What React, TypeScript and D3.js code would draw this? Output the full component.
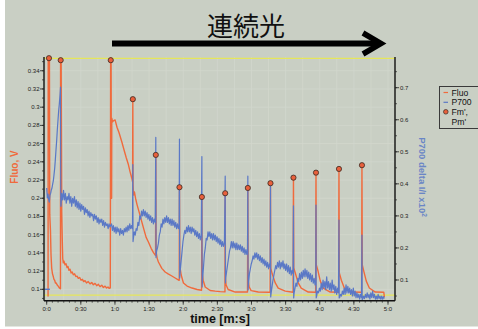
import React from 'react';
import * as d3 from 'd3';

type P = [number, number];

const titleText = '連続光';
const legendLabels = ['Fluo', 'P700', "Fm',", "Pm'"];
const leftTicks = [0.1, 0.12, 0.14, 0.16, 0.18, 0.2, 0.22, 0.24, 0.26, 0.28, 0.3, 0.32, 0.34];
const leftTickLabels = ['0.1', '0.12', '0.14', '0.16', '0.18', '0.2', '0.22', '0.24', '0.26', '0.28', '0.3', '0.32', '0.34'];
const rightTicks = [0.1, 0.2, 0.3, 0.4, 0.5, 0.6, 0.7];
const rightTickLabels = ['0.1', '0.2', '0.3', '0.4', '0.5', '0.6', '0.7'];
const timeTicks = [0, 30, 60, 90, 120, 150, 180, 210, 240, 270, 300];
const timeLabels = ['0:0', '0:30', '1:0', '1:30', '2:0', '2:30', '3:0', '3:30', '4:0', '4:30', '5:0'];
const yellowLevels = [0.0937, 0.3536];

const fmTimes = [2.0, 12.3, 56.3, 75.7, 95.9, 116.7, 136.4, 156.9, 176.8, 196.7, 216.9, 236.7, 256.9, 277.1];
const fmValues = [0.3538, 0.3516, 0.3516, 0.3088, 0.2476, 0.2121, 0.2014, 0.2055, 0.2113, 0.2165, 0.2226, 0.2281, 0.2322, 0.2363];

const fluoData: P[] = [
  [0.7, 0.0926], [1.2, 0.0926], [1.35, 0.354], [2.4, 0.354], [2.7, 0.182], [3.3, 0.165], [3.8, 0.138], [4.4, 0.123],
  [5.1, 0.117], [5.8, 0.114], [6.4, 0.111], [7.0, 0.110], [7.7, 0.107], [8.4, 0.107], [9.1, 0.105], [9.8, 0.104],
  [10.4, 0.103], [11.1, 0.1015], [11.7, 0.101], [12.1, 0.1005], [12.2, 0.352], [12.7, 0.352], [13.2, 0.185],
  [13.7, 0.154], [14.1, 0.134], [14.6, 0.129], [15.2, 0.131], [16.1, 0.127], [17.0, 0.128], [17.9, 0.124],
  [18.7, 0.125], [19.6, 0.121], [20.5, 0.122], [21.5, 0.118], [22.4, 0.119], [23.4, 0.116], [24.5, 0.117],
  [25.6, 0.114], [26.7, 0.1145], [27.8, 0.112], [29.0, 0.113], [30.2, 0.110], [31.4, 0.111], [32.5, 0.1085],
  [33.7, 0.1095], [35.0, 0.107], [36.5, 0.1085], [38.1, 0.106], [39.6, 0.1075], [41.0, 0.105], [42.5, 0.1065],
  [44.0, 0.104], [45.4, 0.1055], [46.9, 0.103], [48.4, 0.1045], [49.8, 0.102], [51.3, 0.1035], [52.6, 0.1015],
  [53.9, 0.1025], [55.0, 0.101], [55.9, 0.1015], [56.2, 0.354], [56.6, 0.354], [56.9, 0.2], [57.05, 0.2],
  [57.2, 0.288], [57.9, 0.284], [58.6, 0.285], [60.1, 0.286], [61.8, 0.278], [63.6, 0.272], [66.0, 0.262],
  [68.0, 0.253], [69.8, 0.245], [71.8, 0.237], [73.3, 0.229], [74.8, 0.222], [75.5, 0.218], [75.7, 0.309],
  [75.9, 0.2146], [76.4, 0.2036], [77.1, 0.207], [78.1, 0.2], [79.4, 0.193], [81.2, 0.185], [83.6, 0.174],
  [85.6, 0.165], [87.4, 0.157], [89.4, 0.152], [91.8, 0.145], [94.0, 0.14], [95.7, 0.137], [95.9, 0.2476],
  [96.2, 0.141], [97.1, 0.134], [98.2, 0.13], [101.2, 0.123], [104.1, 0.119], [106.7, 0.117], [110.0, 0.1146],
  [112.9, 0.1124], [116.0, 0.11], [116.5, 0.11], [116.7, 0.2121], [117.0, 0.1256], [118.2, 0.1157], [120.2, 0.107],
  [123.4, 0.1036], [127.8, 0.1014], [132.2, 0.0998], [136.1, 0.099], [136.4, 0.2014], [136.6, 0.119], [137.5, 0.11],
  [139.3, 0.1025], [143.7, 0.0987], [148.1, 0.098], [152.5, 0.0975], [156.7, 0.0972], [156.9, 0.2055], [157.1, 0.112],
  [157.7, 0.1047], [159.5, 0.0998], [165.7, 0.097], [176.5, 0.097], [176.8, 0.2113], [177.1, 0.11], [178.0, 0.1025],
  [179.7, 0.0985], [186, 0.097], [196.4, 0.0968], [196.7, 0.2165], [197.0, 0.123], [198.2, 0.117], [200.9, 0.107],
  [203.5, 0.1014], [209.7, 0.098], [216.6, 0.0968], [216.9, 0.2226], [217.2, 0.1234], [218.5, 0.118], [221.1, 0.107],
  [223.7, 0.1014], [229.9, 0.097], [236.4, 0.0968], [236.7, 0.2281], [237.0, 0.1267], [238.3, 0.121], [240.5, 0.109],
  [243.1, 0.1014], [249.2, 0.097], [256.6, 0.0968], [256.9, 0.2322], [257.2, 0.118], [259.0, 0.11], [261.6, 0.1014],
  [266.9, 0.097], [276.8, 0.0968], [277.1, 0.2363], [277.4, 0.1267], [278.7, 0.12], [280.9, 0.109], [283.6, 0.1014],
  [288.8, 0.097], [296.3, 0.0968], [296.8, 0.0915],
];

const p700Pre: P[] = [[-2, 0.071], [2.8, 0.071]];

const p700Data: P[] = [
  [0, 0.387], [0.53, 0.356], [1.14, 0.368], [1.76, 0.35], [2.29, 0.343], [2.9, 0.365], [3.52, 0.371], [4.05, 0.381],
  [4.66, 0.387], [5.28, 0.4], [5.81, 0.409], [6.42, 0.428], [7.04, 0.449], [7.57, 0.474], [8.18, 0.506], [8.8, 0.537],
  [9.33, 0.568], [9.94, 0.599], [10.56, 0.63], [11.09, 0.649], [11.7, 0.677], [12.14, 0.702], [12.4, 0.334],
  [12.6, 0.33], [13.2, 0.37], [14, 0.35], [14.8, 0.38], [15.6, 0.35], [16.4, 0.37], [17.2, 0.34], [18, 0.36],
  [18.8, 0.35], [19.6, 0.37], [20.4, 0.34], [21.2, 0.36], [22, 0.33], [22.8, 0.355], [23.6, 0.34], [24.4, 0.36],
  [25.2, 0.33], [26, 0.35], [26.8, 0.325], [27.6, 0.345], [28.4, 0.32], [29.2, 0.34], [30, 0.315], [30.8, 0.335],
  [31.6, 0.32], [32.4, 0.33], [33.2, 0.305], [34, 0.325], [34.8, 0.31], [35.6, 0.32], [36.4, 0.3], [37.2, 0.315],
  [38, 0.295], [38.8, 0.31], [39.6, 0.3], [40.4, 0.305], [41.2, 0.285], [42, 0.305], [42.8, 0.29], [43.6, 0.3],
  [44.4, 0.28], [45.2, 0.295], [46, 0.275], [46.8, 0.29], [47.6, 0.28], [48.4, 0.29], [49.2, 0.27], [50, 0.285],
  [50.8, 0.265], [51.6, 0.28], [52.4, 0.27], [53.2, 0.275], [54, 0.26], [54.8, 0.275], [55.6, 0.265], [56.2, 0.27],
  [57, 0.275], [57.8, 0.255], [58.6, 0.27], [59.4, 0.25], [60.2, 0.265], [61, 0.245], [61.8, 0.265], [62.6, 0.25],
  [63.4, 0.26], [64.2, 0.24], [65, 0.26], [65.8, 0.245], [66.6, 0.255], [67.4, 0.24], [68.2, 0.26], [69, 0.25],
  [69.8, 0.265], [70.6, 0.25], [71.4, 0.27], [72.2, 0.255], [73, 0.275], [73.8, 0.26], [74.6, 0.27], [75.4, 0.26],
  [75.7, 0.46], [75.9, 0.22],
  [76.2, 0.23], [77, 0.25], [77.8, 0.24], [78.6, 0.26], [79.4, 0.255], [80.2, 0.28], [81, 0.27], [81.8, 0.3],
  [82.6, 0.29], [83.4, 0.315], [84.2, 0.3], [85, 0.32], [85.8, 0.3], [86.6, 0.315], [87.4, 0.295], [88.2, 0.31],
  [89, 0.29], [89.8, 0.305], [90.6, 0.285], [91.4, 0.3], [92.2, 0.28], [93, 0.295], [93.8, 0.275], [94.6, 0.29],
  [95.4, 0.28], [95.9, 0.545], [96.1, 0.17],
  [96.6, 0.19], [97.4, 0.2], [98.2, 0.215], [99, 0.24], [99.8, 0.25], [100.6, 0.275], [101.4, 0.265], [102.2, 0.29],
  [103, 0.275], [103.8, 0.295], [104.6, 0.28], [105.4, 0.3], [106.2, 0.28], [107, 0.295], [107.8, 0.275],
  [108.6, 0.29], [109.4, 0.27], [110.2, 0.29], [111, 0.27], [111.8, 0.285], [112.6, 0.265], [113.4, 0.28],
  [114.2, 0.26], [115, 0.275], [115.8, 0.26], [116.4, 0.27], [116.7, 0.54], [116.9, 0.106],
  [117.4, 0.13], [118.2, 0.16], [119, 0.19], [119.8, 0.22], [120.6, 0.24], [121.4, 0.255], [122.2, 0.245],
  [123, 0.265], [123.8, 0.25], [124.6, 0.27], [125.4, 0.25], [126.2, 0.265], [127, 0.245], [127.8, 0.265],
  [128.6, 0.25], [129.4, 0.26], [130.2, 0.24], [131, 0.255], [131.8, 0.235], [132.6, 0.25], [133.4, 0.23],
  [134.2, 0.245], [135, 0.225], [135.8, 0.24], [136.4, 0.485], [136.6, 0.078],
  [137, 0.1], [137.8, 0.14], [138.6, 0.18], [139.4, 0.2], [140.2, 0.23], [141, 0.225], [141.8, 0.25], [142.6, 0.235],
  [143.4, 0.25], [144.2, 0.23], [145, 0.245], [145.8, 0.225], [146.6, 0.245], [147.4, 0.225], [148.2, 0.24],
  [149, 0.22], [149.8, 0.235], [150.6, 0.215], [151.4, 0.23], [152.2, 0.21], [153, 0.225], [153.8, 0.205],
  [154.6, 0.22], [155.4, 0.205], [156.2, 0.215], [156.9, 0.424], [157.1, 0.091],
  [157.5, 0.11], [158.3, 0.13], [159.1, 0.15], [159.9, 0.17], [160.7, 0.19], [161.5, 0.2], [162.3, 0.22],
  [163.1, 0.2], [163.9, 0.22], [164.7, 0.2], [165.5, 0.215], [166.3, 0.195], [167.1, 0.215], [167.9, 0.195],
  [168.7, 0.21], [169.5, 0.195], [170.3, 0.21], [171.1, 0.19], [171.9, 0.205], [172.7, 0.185], [173.5, 0.2],
  [174.3, 0.18], [175.1, 0.195], [175.9, 0.18], [176.5, 0.19], [176.8, 0.424], [177.0, 0.069],
  [177.4, 0.09], [178.2, 0.12], [179, 0.135], [179.8, 0.15], [180.6, 0.16], [181.4, 0.175], [182.2, 0.165],
  [183, 0.185], [183.8, 0.17], [184.6, 0.185], [185.4, 0.165], [186.2, 0.18], [187, 0.16], [187.8, 0.175],
  [188.6, 0.155], [189.4, 0.17], [190.2, 0.15], [191, 0.165], [191.8, 0.145], [192.6, 0.16], [193.4, 0.14],
  [194.2, 0.155], [195, 0.135], [195.8, 0.15], [196.4, 0.14], [196.7, 0.396], [196.9, 0.047],
  [197.3, 0.06], [198.1, 0.08], [198.9, 0.1], [199.7, 0.115], [200.5, 0.13], [201.3, 0.145], [202.1, 0.135],
  [202.9, 0.155], [203.7, 0.14], [204.5, 0.16], [205.3, 0.135], [206.1, 0.155], [206.9, 0.14], [207.7, 0.16],
  [208.5, 0.135], [209.3, 0.15], [210.1, 0.13], [210.9, 0.15], [211.7, 0.125], [212.5, 0.145], [213.3, 0.12],
  [214.1, 0.14], [214.9, 0.115], [215.7, 0.13], [216.5, 0.12], [216.9, 0.331], [217.1, 0.044],
  [217.5, 0.06], [218.3, 0.075], [219.1, 0.09], [219.9, 0.08], [220.7, 0.105], [221.5, 0.095], [222.3, 0.12],
  [223.1, 0.1], [223.9, 0.125], [224.7, 0.105], [225.5, 0.13], [226.3, 0.11], [227.1, 0.135], [227.9, 0.11],
  [228.7, 0.13], [229.5, 0.105], [230.3, 0.125], [231.1, 0.1], [231.9, 0.12], [232.7, 0.095], [233.5, 0.115],
  [234.3, 0.09], [235.1, 0.105], [235.9, 0.085], [236.5, 0.095], [236.7, 0.334], [236.9, 0.044],
  [237.3, 0.05], [238.1, 0.065], [238.9, 0.06], [239.7, 0.075], [240.5, 0.065], [241.3, 0.09], [242.1, 0.07],
  [242.9, 0.1], [243.7, 0.075], [244.5, 0.095], [245.3, 0.07], [246.1, 0.11], [246.9, 0.075], [247.7, 0.095],
  [248.5, 0.07], [249.3, 0.09], [250.1, 0.065], [250.9, 0.1], [251.7, 0.07], [252.5, 0.085], [253.3, 0.06],
  [254.1, 0.08], [254.9, 0.055], [255.7, 0.075], [256.5, 0.06], [256.9, 0.287], [257.1, 0.044],
  [257.5, 0.045], [258.3, 0.055], [259.1, 0.05], [259.9, 0.065], [260.7, 0.055], [261.5, 0.075], [262.3, 0.055],
  [263.1, 0.085], [263.9, 0.06], [264.7, 0.08], [265.5, 0.06], [266.3, 0.075], [267.1, 0.055], [267.9, 0.07],
  [268.7, 0.05], [269.5, 0.075], [270.3, 0.05], [271.1, 0.065], [271.9, 0.045], [272.7, 0.06], [273.5, 0.045],
  [274.3, 0.055], [275.1, 0.04], [275.9, 0.055], [276.7, 0.045], [277.1, 0.24], [277.3, 0.038],
  [277.7, 0.04], [278.5, 0.05], [279.3, 0.042], [280.1, 0.055], [280.9, 0.045], [281.7, 0.06], [282.5, 0.045],
  [283.3, 0.055], [284.1, 0.04], [284.9, 0.06], [285.7, 0.045], [286.5, 0.065], [287.3, 0.045], [288.1, 0.055],
  [288.9, 0.04], [289.7, 0.05], [290.5, 0.04], [291.3, 0.055], [292.1, 0.042], [292.9, 0.05], [293.7, 0.04],
  [294.5, 0.05], [295.3, 0.04], [296.1, 0.048], [296.8, 0.042],
];

const BG = '#c9cfc4';
const ORANGE = '#f06a3c';
const BLUE = '#5a78c6';
const FONT = 'Liberation Sans, Arial, sans-serif';

export default function App() {
  const x = d3.scaleLinear().domain([-2.37, 306.15]).range([44, 395]);
  const yL = d3.scaleLinear().domain([0.0875, 0.3551]).range([300.7, 57]);
  const yR = d3.scaleLinear().domain([0.0354, 0.7958]).range([300.7, 57]);

  const lineL = d3.line<P>().x(d => x(d[0])).y(d => yL(d[1]));
  const lineR = d3.line<P>().x(d => x(d[0])).y(d => yR(d[1]));

  const [x0, x1] = x.range();
  const yTop = 57, yBot = 300.7;

  const gridX = d3.range(0, 301, 15);
  const gridY = d3.range(0.1, 0.35, 0.02);
  const minorL = d3.range(0.09, 0.355, 0.01);
  const minorR = d3.range(0.05, 0.79, 0.05);
  const minorX = d3.range(0, 305, 5);

  const legendY = [95.5, 105.3, 115.1, 124.9];

  return (
    <svg width={478} height={329} style={{ position: 'absolute', left: 0, top: 0 }} fontFamily={FONT}>
      <rect x={0} y={0} width={478} height={329} fill="#ffffff" />
      <rect x={5} y={0} width={473} height={326.5} fill={BG} />

      {/* faint grid */}
      {gridX.map(t => (
        <line key={'gx' + t} x1={x(t)} x2={x(t)} y1={yTop} y2={yBot} stroke="#d2d7cd" strokeWidth={0.8} />
      ))}
      {gridY.map(v => (
        <line key={'gy' + v} x1={x0} x2={x1} y1={yL(v)} y2={yL(v)} stroke="#d2d7cd" strokeWidth={0.8} />
      ))}

      {/* yellow reference lines */}
      {yellowLevels.map(v => (
        <line key={'yl' + v} x1={x0} x2={x1} y1={yL(v)} y2={yL(v)} stroke="#e6e65a" strokeWidth={1.2} />
      ))}

      {/* traces */}
      <path d={lineL(fluoData) || ''} fill="none" stroke={ORANGE} strokeWidth={1.4} strokeLinejoin="round" />
      <path d={lineR(p700Pre) || ''} fill="none" stroke={BLUE} strokeWidth={1.4} />
      <path d={lineR(p700Data) || ''} fill="none" stroke={BLUE} strokeWidth={1.2} strokeLinejoin="round" />

      {/* Fm' markers */}
      {fmTimes.map((t, i) => (
        <circle key={'fm' + i} cx={x(t)} cy={yL(fmValues[i])} r={2.6} fill="#e8603c" stroke="#3a2a22" strokeWidth={0.8} />
      ))}

      {/* left axis */}
      <line x1={x0} x2={x0} y1={yTop} y2={yBot} stroke="#111" strokeWidth={1.4} />
      {minorL.map(v => (
        <line key={'ml' + v} x1={x0 - 2} x2={x0} y1={yL(v)} y2={yL(v)} stroke="#222" strokeWidth={0.7} />
      ))}
      {leftTicks.map((v, i) => (
        <g key={'lt' + v}>
          <line x1={x0 - 4} x2={x0} y1={yL(v)} y2={yL(v)} stroke="#222" strokeWidth={0.8} />
          <text x={x0 - 4.5} y={yL(v)} dy="0.33em" textAnchor="end" fontSize={6} fill="#222">{leftTickLabels[i]}</text>
        </g>
      ))}

      {/* right axis */}
      <line x1={x1} x2={x1} y1={yTop} y2={yBot} stroke="#111" strokeWidth={1.4} />
      {minorR.map(v => (
        <line key={'mr' + v} x1={x1} x2={x1 + 2} y1={yR(v)} y2={yR(v)} stroke="#222" strokeWidth={0.7} />
      ))}
      {rightTicks.map((v, i) => (
        <g key={'rt' + v}>
          <line x1={x1} x2={x1 + 4} y1={yR(v)} y2={yR(v)} stroke="#222" strokeWidth={0.8} />
          <text x={x1 + 5} y={yR(v)} dy="0.33em" textAnchor="start" fontSize={6} fill="#222">{rightTickLabels[i]}</text>
        </g>
      ))}

      {/* bottom axis */}
      <line x1={x0} x2={x1} y1={yBot} y2={yBot} stroke="#111" strokeWidth={1.4} />
      {minorX.map(t => (
        <line key={'mx' + t} x1={x(t)} x2={x(t)} y1={yBot} y2={yBot + 2} stroke="#222" strokeWidth={0.7} />
      ))}
      {timeTicks.map((t, i) => (
        <g key={'xt' + t}>
          <line x1={x(t)} x2={x(t)} y1={yBot} y2={yBot + 4} stroke="#222" strokeWidth={0.8} />
          <text x={x(t)} y={yBot + 10} textAnchor="middle" fontSize={6} fill="#222">{timeLabels[i]}</text>
        </g>
      ))}

      {/* axis titles */}
      <text x={220} y={323} textAnchor="middle" fontSize={12.5} fontWeight="bold" fill="#111">time [m:s]</text>
      <text transform="translate(18,167) rotate(-90)" textAnchor="middle" fontSize={10} fontWeight="bold" fill={ORANGE}>Fluo, V</text>
      <text transform="translate(419,177) rotate(90)" textAnchor="middle" fontSize={9.5} fontWeight="bold" fill="#6a86c6">
        P700 delta I/I x10<tspan dy="-3" fontSize={6.5}>2</tspan>
      </text>

      {/* legend */}
      <rect x={439.5} y={86.5} width={45} height={42} fill="none" stroke="#3a3a3a" strokeWidth={1} />
      <line x1={443.5} x2={448} y1={92.5} y2={92.5} stroke={ORANGE} strokeWidth={1.2} />
      <line x1={443.5} x2={448} y1={102.3} y2={102.3} stroke={BLUE} strokeWidth={1.2} />
      <circle cx={445.8} cy={111.8} r={2.3} fill="#e8603c" stroke="#3a2a22" strokeWidth={0.7} />
      {legendLabels.map((s, i) => (
        <text key={'lg' + i} x={451.5} y={legendY[i]} fontSize={8.6} fill="#111">{s}</text>
      ))}

      {/* title and arrow */}
      <text x={246} y={36} textAnchor="middle" fontSize={26} fontFamily="Noto Sans CJK JP" fill="#111">{titleText}</text>
      <line x1={112} x2={378} y1={43.5} y2={43.5} stroke="#000" strokeWidth={6} />
      <polyline points="363,33 381,43.5 363,54" fill="none" stroke="#000" strokeWidth={5.5} strokeLinejoin="miter" />
    </svg>
  );
}
